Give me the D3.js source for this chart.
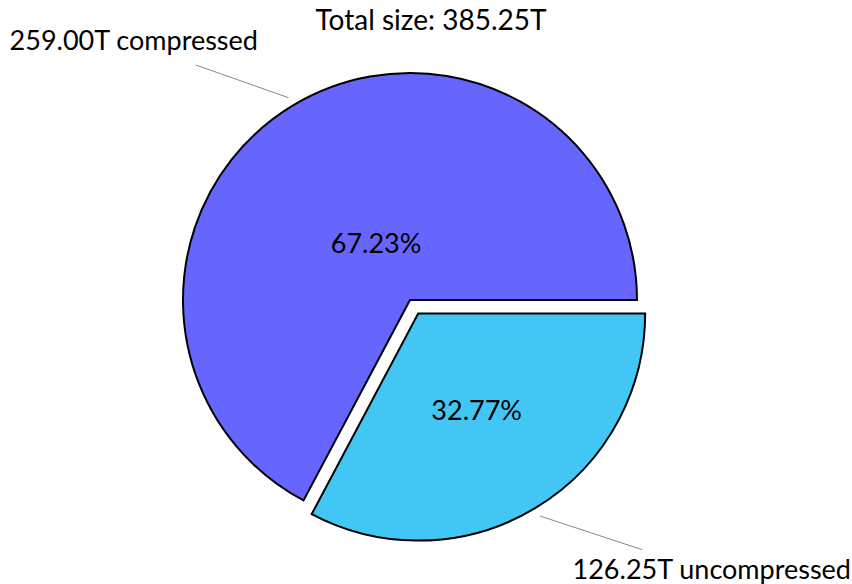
<!DOCTYPE html>
<html>
<head>
<meta charset="utf-8">
<title>Total size</title>
<script src="https://cdn.jsdelivr.net/npm/d3@7"></script>
<style>
  body { margin: 0; background: #fff; }
  text { font-family: Lato, "Liberation Sans", sans-serif; fill: #000; }
</style>
</head>
<body>
<script>
  // data
  var categories = ["compressed", "uncompressed"];
  var sizes = [259.00, 126.25];          // in T
  var colors = ["#6666ff", "#42c6f4"];
  var explode = [0, 0.07];

  var width = 852,
      height = 584,
      cx = 410,
      cy = 300,
      radius = 227;

  var total = d3.sum(sizes);

  var svg = d3.select("body").append("svg")
      .attr("width", width)
      .attr("height", height);

  // matplotlib style: start at 3 o'clock, go counter clockwise
  var pie = d3.pie()
      .sort(null)
      .startAngle(Math.PI / 2)
      .endAngle(Math.PI / 2 - 2 * Math.PI);

  var arc = d3.arc().innerRadius(0).outerRadius(radius);

  var slices = pie(sizes);

  function mid(d) { return (d.startAngle + d.endAngle) / 2; }
  function pt(a, r) { return [Math.sin(a) * r, -Math.cos(a) * r]; }
  function centerOf(d, i) {
    var o = pt(mid(d), explode[i] * radius);
    return [cx + o[0], cy + o[1]];
  }

  var g = svg.selectAll("g.slice")
      .data(slices)
    .enter().append("g")
      .attr("class", "slice")
      .attr("transform", function(d, i) { return "translate(" + centerOf(d, i) + ")"; });

  g.append("path")
      .attr("d", arc)
      .style("fill", function(d, i) { return colors[i]; })
      .style("stroke", "#000")
      .style("stroke-width", 2)
      .style("stroke-linejoin", "miter");

  // percent labels
  var pctDist = [0.29, 0.5];
  g.append("text")
      .attr("x", function(d, i) { return pt(mid(d), pctDist[i] * radius)[0]; })
      .attr("y", function(d, i) { return pt(mid(d), pctDist[i] * radius)[1]; })
      .attr("dy", "0.35em")
      .attr("text-anchor", "middle")
      .style("font-size", "27px")
      .text(function(d, i) { return (sizes[i] / total * 100).toFixed(2) + "%"; });

  // annotation lines + labels (offsets in units of radius)
  var lineEnd = [[-0.943, -1.035], [0.987, 1.04]];
  var textPos = [[-0.67, -1.10], [0.68, 1.17]];
  g.append("line")
      .attr("x1", function(d) { return pt(mid(d), 1.04 * radius)[0]; })
      .attr("y1", function(d) { return pt(mid(d), 1.04 * radius)[1]; })
      .attr("x2", function(d, i) { return lineEnd[i][0] * radius; })
      .attr("y2", function(d, i) { return lineEnd[i][1] * radius; })
      .style("stroke", "#888")
      .style("stroke-width", 1);

  g.append("text")
      .attr("x", function(d, i) { return textPos[i][0] * radius; })
      .attr("y", function(d, i) { return textPos[i][1] * radius; })
      .attr("text-anchor", function(d, i) { return textPos[i][0] < 0 ? "end" : "start"; })
      .style("font-size", "27px")
      .text(function(d, i) { return sizes[i].toFixed(2) + "T " + categories[i]; });

  svg.append("text")
      .attr("x", 431)
      .attr("y", 30)
      .attr("text-anchor", "middle")
      .style("font-size", "28px")
      .text("Total size: " + total.toFixed(2) + "T");
</script>
</body>
</html>
